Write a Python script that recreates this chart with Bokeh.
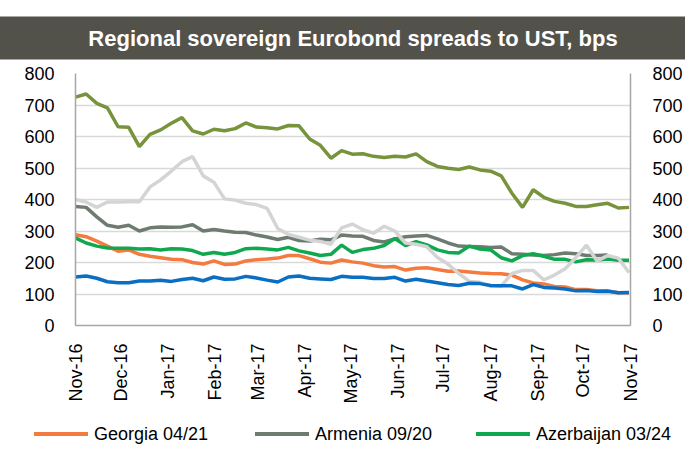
import math
import numpy as np
import pandas as pd
from bokeh.plotting import figure
from bokeh.models import (ColumnDataSource, Range1d, FixedTicker, LinearAxis,
                          DatetimeTickFormatter, Title, Div)
from bokeh.layouts import column
from bokeh.embed import file_html
from bokeh.resources import INLINE

title_text = "Regional sovereign Eurobond spreads to UST, bps"

dates = pd.date_range("2016-11-01", periods=53, freq="7D")
nan = np.nan

georgia = [288, 282, 268, 252, 236, 240, 226, 220, 215, 210, 209, 200, 195, 205,
           194, 195, 205, 209, 211, 214, 222, 222, 212, 201, 198, 208, 202,
           198, 190, 186, 187, 176, 182, 183, 178, 172, 173, 170, 167, 165,
           164, 160, 145, 135, 132, 124, 122, 114, 114, 110, 110, 104, 104]
armenia = [378, 375, 345, 318, 312, 318, 300, 310, 313, 312, 313, 320, 300, 305,
           300, 296, 295, 287, 281, 273, 280, 270, 268, 274, 272, 287, 284,
           283, 270, 265, 275, 282, 284, 286, 275, 262, 252, 251, 250, 248,
           249, 228, 226, 224, 222, 225, 230, 228, 222, 222, 224, nan, nan]
azerbaijan = [278, 262, 252, 246, 245, 245, 243, 244, 240, 244, 243, 238, 226, 232,
              226, 232, 244, 245, 243, 240, 248, 237, 230, 222, 226, 255, 232,
              241, 245, 254, 276, 254, 266, 256, 240, 232, 230, 252, 243, 240,
              215, 205, 222, 228, 220, 210, 210, 202, 209, 208, 211, 207, 207]
olive_series = [725, 735, 705, 691, 631, 629, 568, 607, 621, 642, 660, 618, 608, 623,
                618, 625, 643, 630, 628, 624, 635, 634, 592, 572, 531, 555, 544,
                545, 537, 533, 537, 535, 545, 520, 505, 499, 495, 503, 494, 490,
                475, 420, 375, 431, 407, 394, 388, 378, 378, 383, 388, 373, 375]
lightgray_series = [400, 392, 375, 392, 392, 393, 393, 440, 462, 490, 520, 536, 475, 455,
                    402, 398, 388, 384, 372, 308, 289, 280, 271, 267, 258, 310, 322,
                    304, 293, 315, 300, 262, 258, 250, 216, 195, 165, 140, 137, 125,
                    125, 165, 175, 175, 145, 160, 180, 215, 255, 205, 222, 214, 168]
blue_series = [154, 157, 150, 139, 136, 136, 141, 141, 144, 140, 146, 150, 142, 154,
               147, 148, 156, 151, 144, 138, 154, 157, 150, 148, 146, 156, 153,
               153, 149, 149, 153, 141, 147, 141, 136, 130, 127, 134, 133, 127,
               126, 126, 116, 130, 121, 119, 116, 110, 111, 108, 109, 104, 105]

legend_labels = ["Georgia 04/21", "Armenia 09/20", "Azerbaijan 03/24"]
legend_colors = ["#F47B3F", "#6E7B70", "#10A84E"]

month_ticks = pd.date_range("2016-11-01", "2017-11-01", freq="MS")
y_ticks = [0, 100, 200, 300, 400, 500, 600, 700, 800]

FONT = "Liberation Sans"

src = ColumnDataSource(dict(date=dates, georgia=georgia, armenia=armenia,
                            azerbaijan=azerbaijan, olive=olive_series,
                            lightgray=lightgray_series, blue=blue_series))

p = figure(frame_width=555, frame_height=252, x_axis_type="datetime",
           toolbar_location=None, output_backend="svg",
           x_range=Range1d(month_ticks[0], month_ticks[-1]),
           y_range=Range1d(0, 800),
           min_border_left=75, min_border_right=50, min_border_top=70,
           min_border_bottom=92, outline_line_color=None,
           background_fill_color="white", border_fill_color="white")

p.title = Title(text=title_text, align="center", text_font=FONT,
                text_font_size="22px", text_font_style="bold",
                text_color="white", background_fill_color="#53524A",
                padding=dict(left=300, right=300, top=9, bottom=9),
                standoff=28)

p.xgrid.visible = False
p.ygrid.ticker = FixedTicker(ticks=y_ticks)
p.ygrid.grid_line_color = "#D9D9D9"
p.ygrid.grid_line_width = 1.5

def style_axis(ax):
    ax.axis_line_color = "#A6A6A6"
    ax.axis_line_width = 1.5
    ax.major_tick_line_color = None
    ax.minor_tick_line_color = None
    ax.major_label_text_font = FONT
    ax.major_label_text_font_size = "18px"
    ax.major_label_text_color = "#000000"

xa = p.xaxis[0]
style_axis(xa)
xa.ticker = FixedTicker(ticks=[d.value // 10**6 for d in month_ticks])
xa.formatter = DatetimeTickFormatter(days="%b-%y", months="%b-%y", years="%b-%y",
                                     hours="%b-%y", minutes="%b-%y")
xa.major_label_orientation = math.pi / 2
xa.major_label_standoff = 12

ya = p.yaxis[0]
style_axis(ya)
ya.ticker = FixedTicker(ticks=y_ticks)
ya.major_label_standoff = 15

yr = LinearAxis(ticker=FixedTicker(ticks=y_ticks))
style_axis(yr)
yr.major_label_standoff = 16
p.add_layout(yr, "right")

lw = 3.5
p.line("date", "georgia", source=src, line_color=legend_colors[0], line_width=lw)
p.line("date", "armenia", source=src, line_color=legend_colors[1], line_width=lw)
p.line("date", "azerbaijan", source=src, line_color=legend_colors[2], line_width=lw)
p.line("date", "olive", source=src, line_color="#77933C", line_width=lw)
p.line("date", "lightgray", source=src, line_color="#D4D4D4", line_width=lw)
p.line("date", "blue", source=src, line_color="#0A6FC2", line_width=lw)

# legend row below the chart
item_left = [34, 255, 476]
parts = []
for lab, col, left in zip(legend_labels, legend_colors, item_left):
    parts.append(
        f'<div style="position:absolute;left:{left}px;top:15px;width:54px;'
        f'height:4px;background:{col};"></div>'
        f'<span style="position:absolute;left:{left + 60}px;top:6px;'
        f'line-height:22px;white-space:nowrap;">{lab}</span>')
legend_html = ('<div style="position:relative;width:680px;height:34px;'
               "font-family:'Liberation Sans';font-size:18px;color:#000;\">"
               + "".join(parts) + "</div>")
leg = Div(text=legend_html, width=680, height=34, margin=0)

layout = column(p, leg, spacing=0)
open("out.html", "w").write(file_html(layout, INLINE))
